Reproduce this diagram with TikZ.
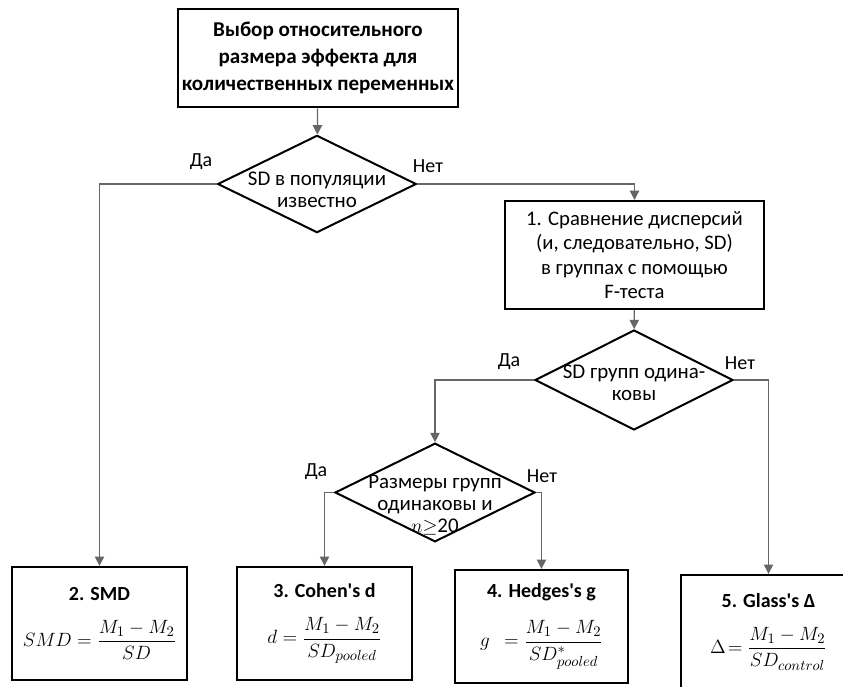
\documentclass[tikz,border=0pt]{standalone}
\usepackage{amsmath}
\usepackage{fontspec}
\setmainfont{Carlito}
\usetikzlibrary{positioning,arrows.meta,shapes.geometric}

\tikzset{
  box/.style={draw=black, line width=1.5pt, fill=white, align=center, inner sep=2pt},
  choice/.style={diamond, draw=black, line width=1.5pt, fill=white, inner sep=0pt},
  choicetext/.style={align=center, font=\fontsize{15.7}{16.5}\selectfont},
  result/.style={box, minimum width=131pt, minimum height=85pt, font=\fontsize{15}{17}\selectfont},
  conn/.style={draw=black!60, line width=0.9pt, -{Triangle[length=7pt,width=7pt]}},
  answer/.style={font=\fontsize{15}{17}\selectfont},
}

\begin{document}
\begin{tikzpicture}[x=0.75pt,y=-0.75pt]
                \clip (0,0) rectangle (843,686);

                \node[box, minimum width=210pt, minimum height=74pt,
                      font=\fontsize{15.8}{20.25}\selectfont\bfseries] (start) at (318,58)
                      {Выбор относительного\\размера эффекта для\\количественных переменных};

                \node[choice, minimum width=149pt, minimum height=73pt] (known) at (317,184) {};
                \node[choicetext] (knowntext) at (317,190) {SD в популяции\\известно};

                \node[box, minimum width=194pt, minimum height=81pt,
                      font=\fontsize{15.5}{18.2}\selectfont] (ftest) at (634.5,255)
                      {1. Сравнение дисперсий\\(и, следовательно, SD)\\в группах с помощью\\F-теста};

                \node[choice, minimum width=148.5pt, minimum height=75pt] (equal) at (634,380) {};
                \node[choicetext] (equaltext) at (634,383) {SD групп одина-\\ковы};

                \node[choice, minimum width=150pt, minimum height=74pt] (sizes) at (435,492.5) {};
                \node[choicetext] (sizestext) at (435,505) {Размеры групп\\одинаковы и\\$n{\geq}$20};

                \node[result] (smd) at (99.5,623.5)
                      {\textbf{2. SMD}\\[14pt] $SMD=\dfrac{M_1-M_2}{SD}$};
                \node[result] (cohen) at (324.5,623.5)
                      {\textbf{3. Cohen\textquotesingle s d}\\[14pt] $d=\dfrac{M_1-M_2}{SD_{pooled}}$};
                \node[result, minimum width=130pt] (hedges) at (541.5,626.5)
                      {\textbf{4. Hedges\textquotesingle s g}\\[14pt] $g\ \ =\dfrac{M_1-M_2}{SD^{*}_{pooled}}$};
                \node[result] (glass) at (768.5,631.5)
                      {\textbf{5. Glass\textquotesingle s Δ}\\[14pt] $\Delta\!=\dfrac{M_1-M_2}{SD_{control}}$};

                \node[answer] (yes1) at (201,162) {Да};
                \node[answer] (no1)  at (428,166) {Нет};
                \node[answer] (yes2) at (509,362) {Да};
                \node[answer] (no2)  at (740,363) {Нет};
                \node[answer] (yes3) at (316,472) {Да};
                \node[answer] (no3)  at (542,476) {Нет};

                \draw[conn] (start) -- (known);
                \draw[conn] (known.west) -| (smd.north);
                \draw[conn] (known.east) -| (ftest.north);
                \draw[conn] (ftest) -- (equal);
                \draw[conn] (equal.west) -| (sizes.north);
                \draw[conn] (equal.east) -| (glass.north);
                \draw[conn] (sizes.west) -| (cohen.north);
                \draw[conn] (sizes.east) -| (hedges.north);
            \end{tikzpicture}
\end{document}
